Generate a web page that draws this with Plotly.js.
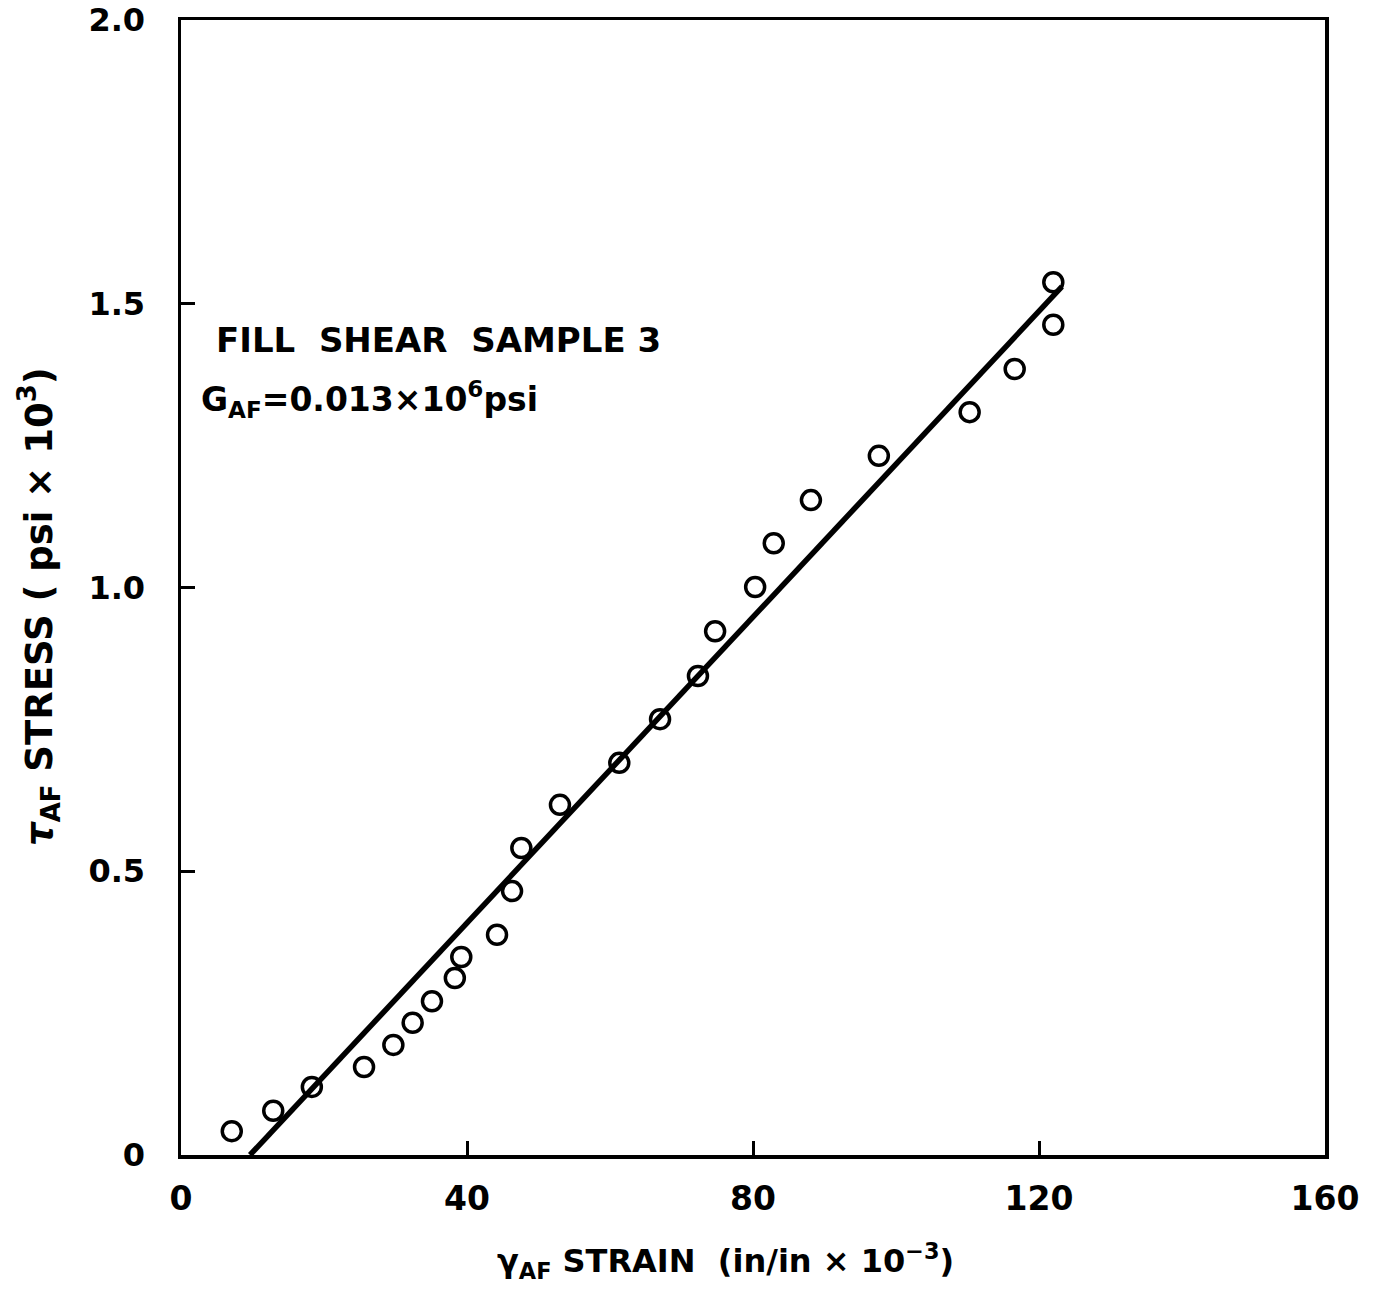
<!DOCTYPE html>
<html>
<head>
<meta charset="utf-8">
<script src="https://cdn.plot.ly/plotly-3.0.1.min.js"></script>
<style>html,body{margin:0;padding:0;background:#fff;}#chart{width:1381px;height:1301px;}</style>
</head>
<body>
<div id="chart"></div>
<script>
// Measured data points (strain in/in x10^-3, stress psi x10^3)
const strain = [7.1, 12.9, 18.3, 25.6, 29.7, 32.4, 35.1, 38.3, 39.2, 44.2, 46.3, 47.6, 53.0, 61.3, 67.0, 72.3, 74.7, 80.3, 82.9, 88.1, 97.6, 110.3, 116.6, 122.0, 122.0];
const stress = [0.042, 0.078, 0.120, 0.155, 0.194, 0.233, 0.271, 0.312, 0.349, 0.388, 0.465, 0.541, 0.617, 0.691, 0.768, 0.844, 0.923, 1.001, 1.078, 1.154, 1.232, 1.309, 1.385, 1.463, 1.538];
// Fitted line endpoints
const fitX = [9.65, 123.2];
const fitY = [0.0, 1.53];
const xTicks = [0, 40, 80, 120, 160];
const xTickText = ['0', '40', '80', '120', '160'];
const yTicks = [0, 0.5, 1.0, 1.5, 2.0];
const yTickText = ['0', '0.5', '1.0', '1.5', '2.0'];

const font = 'DejaVu Sans, sans-serif';

const traces = [
  {x: fitX, y: fitY, mode: 'lines', line: {color: '#000', width: 5.5}, showlegend: false, hoverinfo: 'skip'},
  {x: strain, y: stress, mode: 'markers', marker: {symbol: 'circle-open', size: 19, color: '#000', line: {width: 3.5, color: '#000'}}, showlegend: false}
];

const layout = {
  width: 1381, height: 1301,
  margin: {l: 181, r: 56, t: 20, b: 146},
  paper_bgcolor: '#fff', plot_bgcolor: '#fff',
  xaxis: {
    range: [0, 160], tickvals: xTicks, ticktext: xTickText,
    ticks: 'inside', ticklen: 14, tickwidth: 3, tickcolor: '#000',
    showline: true, linewidth: 3.5, linecolor: '#000', mirror: true,
    showgrid: false, zeroline: false,
    tickfont: {family: font, size: 33, color: '#000', weight: 'bold'}, ticklabelstandoff: 12
  },
  yaxis: {
    range: [0, 2.0], tickvals: yTicks, ticktext: yTickText,
    ticks: 'inside', ticklen: 14, tickwidth: 3, tickcolor: '#000',
    showline: true, linewidth: 3.5, linecolor: '#000', mirror: true,
    showgrid: false, zeroline: false,
    tickfont: {family: font, size: 32, color: '#000', weight: 'bold'}, ticklabelstandoff: 26
  },
  annotations: [
    {xref: 'paper', yref: 'paper', x: 0.029, y: 0.718, xanchor: 'left', yanchor: 'middle', showarrow: false,
     text: 'FILL&nbsp; SHEAR&nbsp; SAMPLE 3', font: {family: font, size: 34, color: '#000', weight: 'bold'}},
    {xref: 'paper', yref: 'paper', x: 0.016, y: 0.666, xanchor: 'left', yanchor: 'middle', showarrow: false,
     text: 'G<sub>AF</sub>=0.013×10<sup>6</sup>psi', font: {family: font, size: 33, color: '#000', weight: 'bold'}},
    {xref: 'paper', yref: 'paper', x: 0.476, y: -0.093, xanchor: 'center', yanchor: 'middle', showarrow: false,
     text: 'γ<sub>AF</sub> STRAIN  (in/in × 10<sup>−3</sup>)', font: {family: font, size: 32, color: '#000', weight: 'bold'}},
    {xref: 'paper', yref: 'paper', x: -0.124, y: 0.483, xanchor: 'center', yanchor: 'middle', showarrow: false, textangle: -90,
     text: '<i>τ</i><sub>AF</sub> STRESS ( psi × 10<sup>3</sup>)', font: {family: font, size: 37, color: '#000', weight: 'bold'}}
  ]
};

Plotly.newPlot('chart', traces, layout, {displayModeBar: false, staticPlot: true});
</script>
</body>
</html>
